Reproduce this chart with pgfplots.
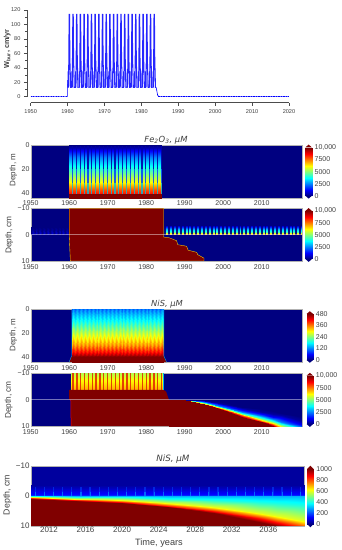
\documentclass[border=0pt]{standalone}
\usepackage{fontspec}
\usepackage{pgfplots}
\usepackage{pgfplotstable}
\pgfplotsset{compat=1.18}
\setmainfont{Liberation Sans}
\newfontfamily\titlefont{DejaVu Sans}
\definecolor{jd}{RGB}{0,0,128}
\definecolor{jr}{RGB}{128,0,0}
\definecolor{tk}{gray}{0.25}
\pgfplotsset{
 colormap={myjet}{rgb255(0cm)=(0,0,128); rgb255(1cm)=(0,0,255); rgb255(3cm)=(0,255,255); rgb255(5cm)=(255,255,0); rgb255(7cm)=(255,0,0); rgb255(8cm)=(128,0,0)},
 colormap name=myjet,
 base/.style={scale only axis, anchor=south west, clip=true,
   /pgf/number format/assume math mode=true, /pgf/number format/1000 sep={},
   tick label style={text=tk}, axis line style={draw=gray!60,line width=.3pt}, major tick length=0pt, minor tick length=0pt, tick style={draw=none}},
 heat/.style={base, axis background/.style={fill=jd}, y dir=reverse, tick label style={font=\fontsize{7}{8}\selectfont, inner sep=1pt},
   xticklabel style={yshift=-2pt},
   xmin=1950, xmax=2020.4, xtick={1950,1960,...,2010}, point meta min=0, point meta max=10000},
 shd/.style={surf, shader=interp, point meta=explicit, mesh/cols=#1},
}
% Fe2O3 in the water column, summer peak by depth
\pgfplotstableread{
x d z
1960 0 0
1984 0 0
1960 2.5 500
1984 2.5 500
1960 5 1300
1984 5 1300
1960 10 2500
1984 10 2500
1960 20 4200
1984 20 4200
1960 30 6000
1984 30 6000
1960 38 8000
1984 38 8000
1960 40.5 8500
1984 40.5 8500
1960 41 10000
1984 41 10000
1960 45 10000
1984 45 10000
}\cycA
% Fe2O3 sediment stripes after 1984, peak by depth
\pgfplotstableread{
x d z
1984.5 0 7500
2020.4 0 7500
1984.5 -.5 6000
2020.4 -.5 6000
1984.5 -1 4500
2020.4 -1 4500
1984.5 -2 3000
2020.4 -2 3000
1984.5 -3 1600
2020.4 -3 1600
1984.5 -3.8 0
2020.4 -3.8 0
}\cycB
% Fe2O3 sediment stripes before 1960
\pgfplotstableread{
x d z
0 0 100
.5 0 1000
1 0 100
0 -1 50
.5 -1 600
1 -1 50
0 -2 0
.5 -2 200
1 -2 0
0 -3 0
.5 -3 0
1 -3 0
}\cycC
% NiS water column
\pgfplotstableread{
x d z
0 0 100
.5 0 130
1 0 100
0 5 140
.5 5 165
1 5 140
0 10 170
.5 10 200
1 10 170
0 20 250
.5 20 285
1 20 250
0 30 330
.5 30 365
1 30 330
0 36 400
.5 36 430
1 36 400
0 40 480
.5 40 500
1 40 480
0 44.7 500
.5 44.7 500
1 44.7 500
}\cycD
% NiS sediment, upper layer
\pgfplotstableread{
x d z
1960.4 -10 5500
1984.5 -10 5500
1960.4 -7 6300
1984.5 -7 6300
1960.4 -4 7000
1984.5 -4 7000
1960.4 -3.7 8500
1984.5 -3.7 8500
}\cycE
% NiS sediment after 1985: depth of each concentration level, by year
\pgfplotstableread{
t d z
1985.8 0 0
1990 0 0
1995 .1 0
2000 .9 0
2005 2.6 0
2010 3.7 0
2013 4.4 0
2015 5 0
2020.4 6.5 0
1985.8 0 300
1990 .05 300
1995 .4 300
2000 1.5 300
2005 3.2 300
2010 4.5 300
2013 5.3 300
2015 6 300
2020.4 8 300
1985.8 0 1250
1990 .1 1250
1995 .7 1250
2000 2.1 1250
2005 4 1250
2010 5.4 1250
2013 6.4 1250
2015 7.1 1250
2020.4 9.5 1250
1985.8 0 2500
1990 .15 2500
1995 .95 2500
2000 2.6 2500
2005 4.7 2500
2010 6.3 2500
2013 7.4 2500
2015 8.3 2500
2020.4 10.5 2500
1985.8 0 5000
1990 .2 5000
1995 1.3 5000
2000 3.2 5000
2005 5.5 5000
2010 7.3 5000
2013 8.6 5000
2015 9.7 5000
2020.4 12.5 5000
1985.8 0 7500
1990 .25 7500
1995 1.55 7500
2000 3.6 7500
2005 6 7500
2010 8 7500
2013 9.4 7500
2015 10.6 7500
2020.4 14 7500
1985.8 0 10000
1990 .3 10000
1995 1.7 10000
2000 3.9 10000
2005 6.4 10000
2010 8.5 10000
2013 10 10000
2015 11.3 10000
2020.4 15 10000
1985.8 20 10000
1990 20 10000
1995 20 10000
2000 20 10000
2005 20 10000
2010 20 10000
2013 20 10000
2015 20 10000
2020.4 20 10000
}\fieldE
% NiS forecast, upper layer
\pgfplotstableread{
x d z
2010 -3.5 30
2040 -3.5 30
2010 -2.5 60
2040 -2.5 60
2010 -1.5 100
2040 -1.5 100
2010 -.7 130
2040 -.7 130
2010 0 190
2040 0 190
}\cycF
% NiS forecast: depth of each concentration level, by year
\pgfplotstableread{
t d z
2010 0 300
2015 0 300
2020 0 300
2025 0 300
2030 0 300
2035 0 300
2037 0 300
2040 0 300
2010 .1 400
2015 .3 400
2020 .5 400
2025 1 400
2030 1.5 400
2035 2.2 400
2037 2.5 400
2040 3 400
2010 .5 600
2015 .9 600
2020 1.5 600
2025 2.5 600
2030 3.6 600
2035 5.8 600
2037 6.8 600
2040 8.3 600
2010 .8 850
2015 1.3 850
2020 2.1 850
2025 3.3 850
2030 5 850
2035 7.5 850
2037 8.8 850
2040 10.8 850
2010 1 1000
2015 1.6 1000
2020 2.5 1000
2025 3.8 1000
2030 5.8 1000
2035 8.6 1000
2037 10 1000
2040 12.5 1000
2010 20 1000
2015 20 1000
2020 20 1000
2025 20 1000
2030 20 1000
2035 20 1000
2037 20 1000
2040 20 1000
}\fieldF
% burial velocity, one year
\pgfplotstableread{
x y
0 13
.1 13
.18 35
.26 13
.33 50
.43 114
.52 114
.62 50
.72 32
.8 13
1 13
}\cycW
\pgfplotstableread{
x y f
0 0 0
1 0 0
0 1 1
1 1 1
}\cbt
\newcommand\cbar[5]{%
\begin{axis}[base, at={(#1pt,#2pt)}, width=6.7pt, height=#3pt, xmin=0, xmax=1, ymin=0, ymax=1, clip=false,
  point meta min=0, point meta max=1, xtick=\empty, ytick=#4, yticklabels=#5, axis line style={draw=none},
  ytick pos=right, yticklabel pos=right, tick label style={font=\fontsize{7}{8}\selectfont, inner sep=1pt},
  yticklabel style={xshift=1.5pt}]
 \addplot[shd=2, mesh/rows=2] table[x=x,y=y,meta=f] \cbt;
 \fill[jr] (axis cs:0,1) -- (axis cs:.5,1.06) -- (axis cs:1,1) -- cycle;
 \fill[jd] (axis cs:0,0) -- (axis cs:.5,-.06) -- (axis cs:1,0) -- cycle;
\end{axis}}
\begin{document}
\begin{tikzpicture}[x=1pt,y=1pt]
\path[use as bounding box] (0,0) rectangle (342,550);

% ---------- panel 1: burial velocity
\begin{axis}[scale only axis, anchor=south west, at={(30.7pt,453.3pt)}, width=258.3pt, height=86.7pt,
  xmin=1950, xmax=2020, ymin=0, ymax=120, clip=false,
  axis x line=bottom, axis y line=left, axis x line shift=6pt, axis y line shift=3.7pt,
  x axis line style={-,draw=gray!60!black,line width=.4pt}, y axis line style={-,draw=gray!60!black,line width=.4pt},
  xtick={1950,1960,...,2020}, ytick={0,20,...,120}, minor y tick num=1,
  tick align=outside, major tick length=3pt, minor tick length=1.5pt, tick style={draw=gray!60!black,line width=.4pt},
  /pgf/number format/assume math mode=true, /pgf/number format/1000 sep={},
  tick label style={font=\fontsize{5.6}{6}\selectfont, text=tk}]
 \addplot[blue!55!white, line width=.5pt] coordinates {(1950,1) (1960,1)};
 \addplot[blue, line width=.6pt, dash pattern=on 1.3pt off 1.2pt] coordinates {(1950,1) (1960,1)};
 \addplot[blue, line width=.6pt] coordinates {(1960,1) (1960,23) (1960.1,13)};
 \pgfplotsinvokeforeach{1960,...,1983}{
  \addplot[blue, opacity=.85, line width=1.05pt] table[x expr=\thisrow{x}+#1, y=y] \cycW;
 }
 \addplot[blue, line width=.6pt] coordinates {(1984,13) (1984.4,2) (1984.6,1)};
 \addplot[blue!55!white, line width=.5pt] coordinates {(1984.6,1) (2020,1)};
 \addplot[blue, line width=.6pt, dash pattern=on 1.3pt off 1.2pt] coordinates {(1984.6,1) (2020,1)};
\end{axis}
\node[rotate=90,font=\bfseries\fontsize{7.3}{8}\selectfont,text=tk] at (7.3,501) {W\textsubscript{bur}, cm/yr};

% ---------- panel 2: Fe2O3 water column
\begin{axis}[heat, at={(30.7pt,351.7pt)}, width=271pt, height=53.3pt, ymin=0, ymax=44.7, ytick={0,20,40}, xticklabel style={yshift=1.2pt}]
 \addplot[shd=2] table[x=x, y=d, meta=z] \cycA;
 \pgfplotsinvokeforeach{1960.9,1961.9,...,1983.9}{
  \addplot[color={rgb,255:red,0;green,0;blue,170}, opacity=.9, line width=1.15pt] coordinates {(#1,1) (#1,20)};
  \addplot[color={rgb,255:red,0;green,60;blue,255}, opacity=.85, line width=1.15pt] coordinates {(#1,20) (#1,32)};
  \addplot[color={rgb,255:red,0;green,190;blue,220}, opacity=.8, line width=1.15pt] coordinates {(#1,32) (#1,40.8)};
 }
\end{axis}
\cbar{305.3}{354.3}{48.2}{{0,.25,.5,.75,1}}{{0,2500,5000,7500,{10,000}}}
\node[font=\titlefont\itshape\fontsize{8.4}{9}\selectfont,text=tk] at (166,410) {Fe\textsubscript{2}O\textsubscript{3}, μM};
\node[rotate=90,font=\fontsize{8}{9}\selectfont,text=tk] at (13.3,380) {Depth, m};

% ---------- panel 3: Fe2O3 sediment
\begin{axis}[heat, at={(30.7pt,289pt)}, width=271pt, height=52.7pt, ymin=-10, ymax=10, ytick={-10,0,10}, yticklabels={−10,0,10}]
 \pgfplotsinvokeforeach{1950,...,1959}{
  \addplot[shd=3] table[x expr=\thisrow{x}+#1, y=d, meta=z] \cycC;
 }
 \addplot[shd=2] table[x=x, y=d, meta=z] \cycB;
 \pgfplotsinvokeforeach{1985,1986,...,2020}{
  \addplot[color=jd, opacity=.92, line width=1.9pt] coordinates {(#1,-3.9) (#1,0)};
 }
 \addplot[fill=jr, draw=yellow!70!orange, line width=.35pt] coordinates {(1960,-10) (1984.5,-10) (1984.5,0.9) (1986,1.2) (1987.9,2.3) (1988.2,3.8) (1990.5,4.4) (1990.9,5.9) (1993.1,6.7) (1993.4,7.6) (1995,8.9) (1995,10) (1960.3,10) (1960,0)} --cycle;
 \addplot[white, opacity=.45, line width=.5pt] coordinates {(1950,0) (2020.4,0)};
\end{axis}
\cbar{305.3}{291}{48}{{0,.25,.5,.75,1}}{{0,2500,5000,7500,{10,000}}}
\node[rotate=90,font=\fontsize{8.3}{9}\selectfont,text=tk] at (9.3,315) {Depth, cm};

% ---------- panel 4: NiS water column
\begin{axis}[heat, at={(30.7pt,188pt)}, width=271pt, height=52.7pt, ymin=0, ymax=44, ytick={0,20,40}, point meta max=480]
 \pgfplotsinvokeforeach{1960.6,1961.6,...,1983.6}{
  \addplot[shd=3] table[x expr=\thisrow{x}+#1, y=d, meta=z] \cycD;
 }
 \addplot[fill=jr, draw=none] coordinates {(1960.6,39.5) (1984.6,39.5) (1985.3,44) (1960,44)} --cycle;
 \addplot[cyan, line width=.35pt] coordinates {(1960.6,0) (1960.6,39) (1960,44)};
 \addplot[cyan, line width=.35pt] coordinates {(1984.6,0) (1984.6,39) (1985.3,44)};
\end{axis}
\cbar{306.5}{190}{46}{{0,.25,.5,.75,1}}{{0,120,240,360,480}}
\node[font=\titlefont\itshape\fontsize{8.3}{9}\selectfont,text=tk] at (167,246) {NiS, μM};
\node[rotate=90,font=\fontsize{8}{9}\selectfont,text=tk] at (13.3,215) {Depth, m};

% ---------- panel 5: NiS sediment
\begin{axis}[heat, at={(30.7pt,124pt)}, width=271pt, height=52.7pt, ymin=-10, ymax=10, ytick={-10,0,10}, yticklabels={−10,0,10}]
 \addplot[shd=2] table[x=x, y=d, meta=z] \cycE;
 \pgfplotsinvokeforeach{1961,1962,...,1984}{
  \addplot[color={rgb,255:red,225;green,35;blue,0}, opacity=.85, line width=1.3pt] coordinates {(#1,-10) (#1,-3.7)};
 }
 \addplot[fill=jr, draw=none] coordinates {(1960,-3.7) (1984.5,-3.7) (1985.2,-3) (1985.9,0) (1985.9,10) (1960.5,10) (1960.5,0) (1960,0)} --cycle;
 \addplot[shd=9] table[x=t, y=d, meta=z] \fieldE;
 \addplot[red, line width=.5pt] coordinates {(1960.4,0) (1960.5,10)};
 \addplot[cyan, line width=.3pt] coordinates {(1984.5,-10) (1984.5,-3.7)};
 \addplot[white, opacity=.45, line width=.5pt] coordinates {(1950,0) (2020.4,0)};
\end{axis}
\cbar{306.5}{126}{48.3}{{0,.25,.5,.75,1}}{{0,2500,5000,7500,{10,000}}}
\node[rotate=90,font=\fontsize{8.3}{9}\selectfont,text=tk] at (8.7,150) {Depth, cm};

% ---------- panel 6: NiS forecast
\begin{axis}[base, at={(30.7pt,24.3pt)}, width=273.3pt, height=59.7pt, y dir=reverse,
  axis background/.style={fill={rgb,255:red,0;green,0;blue,158}},
  xmin=2010, xmax=2039.9, ymin=-10, ymax=10, xtick={2012,2016,...,2036}, ytick={-10,0,10}, yticklabels={−10,0,10},
  point meta min=0, point meta max=1000, tick label style={font=\fontsize{8}{9}\selectfont, inner sep=1pt}]
 \addplot[shd=2] table[x=x, y=d, meta=z] \cycF;
 \pgfplotsinvokeforeach{2010.5,2011.5,...,2039.5}{
  \addplot[color={rgb,255:red,0;green,70;blue,255}, opacity=.55, line width=1.3pt] coordinates {(#1,-2.8) (#1,0)};
  \addplot[color={rgb,255:red,0;green,150;blue,255}, opacity=.6, line width=1.1pt] coordinates {(#1,-1.4) (#1,0)};
 }
 \addplot[shd=8] table[x=t, y=d, meta=z] \fieldF;
\end{axis}
\cbar{307}{26}{55}{{0,.2,.4,.6,.8,1}}{{0,200,400,600,800,1000}}
\node[font=\titlefont\itshape\fontsize{8.7}{10}\selectfont,text=tk] at (173,91) {NiS, μM};
\node[rotate=90,font=\fontsize{8.8}{10}\selectfont,text=tk] at (7.3,55) {Depth, cm};
\node[font=\fontsize{9.2}{10}\selectfont,text=tk] at (159,7.3) {Time, years};
\end{tikzpicture}
\end{document}
